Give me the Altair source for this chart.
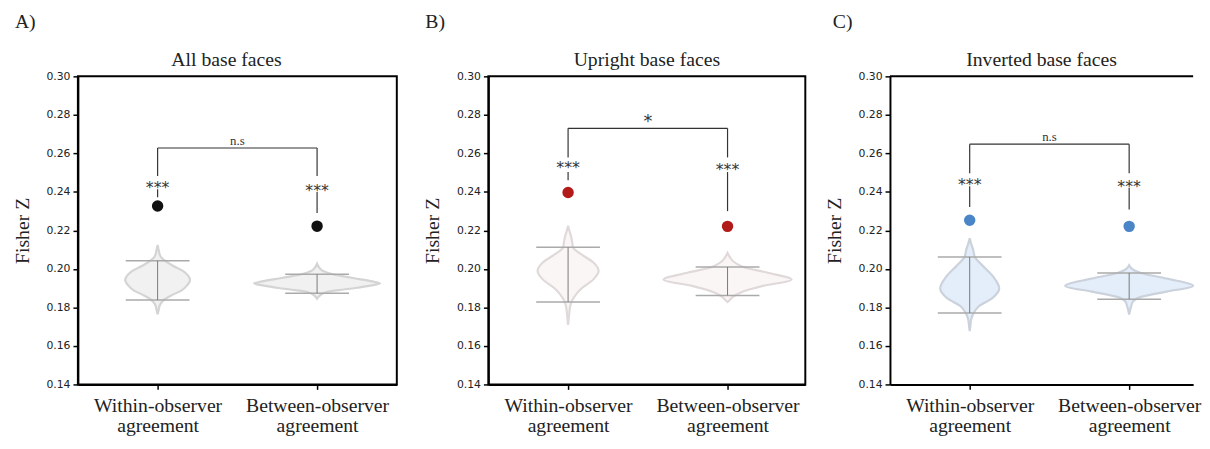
import altair as alt
import pandas as pd

SERIF = "Liberation Serif"
SANS = "DejaVu Sans"

# ---------------- data ----------------
categories = ["Within-observer agreement", "Between-observer agreement"]
cat_pos = [0.5, 1.5]
panel_titles = ["All base faces", "Upright base faces", "Inverted base faces"]
panel_letters = ["A)", "B)", "C)"]
y_ticks = [0.14, 0.16, 0.18, 0.20, 0.22, 0.24, 0.26, 0.28, 0.30]

# observed Fisher Z (dots): [within, between]
observed = [[0.2327, 0.2222], [0.2397, 0.2221], [0.2253, 0.2221]]

# violin profiles (null distributions): y values and density half-widths
vio_y = {
    (0, 0): [0.2125, 0.2095, 0.2070, 0.2055, 0.2040, 0.2015, 0.1989, 0.1965, 0.1942, 0.1915, 0.1887, 0.1865, 0.1845, 0.1830, 0.1811, 0.1790, 0.1765],
    (0, 1): [0.2027, 0.2005, 0.1989, 0.1972, 0.1960, 0.1947, 0.1935, 0.1925, 0.1913, 0.1901, 0.1890, 0.1879, 0.1862, 0.1845],
    (1, 0): [0.2224, 0.2200, 0.2176, 0.2145, 0.2112, 0.2074, 0.2032, 0.1989, 0.1947, 0.1896, 0.1853, 0.1830, 0.1803, 0.1760, 0.1709],
    (1, 1): [0.2083, 0.2060, 0.2040, 0.2025, 0.2010, 0.1981, 0.1944, 0.1913, 0.1879, 0.1853, 0.1840, 0.1828],
    (2, 0): [0.2159, 0.2130, 0.2104, 0.2062, 0.2019, 0.1959, 0.1899, 0.1848, 0.1805, 0.1771, 0.1737, 0.1700, 0.1677],
    (2, 1): [0.2019, 0.2005, 0.1993, 0.1979, 0.1950, 0.1911, 0.1882, 0.1856, 0.1831, 0.1805, 0.1763],
}
vio_d = {
    (0, 0): [0, 1.2, 2.5, 4.5, 8, 16, 26, 31, 33, 30, 24, 15, 8, 4.5, 2.2, 1.2, 0],
    (0, 1): [0, 2.5, 6, 16, 28, 43, 56, 64, 54, 39, 22, 9, 3, 0],
    (1, 0): [0, 1.2, 2.7, 4, 5, 14, 26, 31, 26, 13, 6, 3.5, 2, 1, 0],
    (1, 1): [0, 2.5, 5.7, 10, 16, 40, 65, 37, 14, 5, 2.5, 0],
    (2, 0): [0, 1.5, 3.3, 5.3, 12.7, 24, 30, 23, 9, 4, 1.5, 0.6, 0],
    (2, 1): [0, 2, 5, 12, 38, 65, 38, 13, 4, 2, 0],
}
# extrema caps of the null distributions: [within(max,min), between(max,min)]
caps = [[(0.2042, 0.1838), (0.1972, 0.1874)],
        [(0.2112, 0.1828), (0.2010, 0.1862)],
        [(0.2062, 0.1771), (0.1979, 0.1843)]]

# significance annotations
bracket_y = [0.2628, 0.2730, 0.2648]
bracket_label = ["n.s", "*", "n.s"]
bracket_label_y = [0.2665, 0.2790, 0.2686]
star_y = [[0.2440, 0.2427], [0.2542, 0.2534], [0.2458, 0.2446]]
leg_upper_end = [[0.2482, 0.2482], [0.2579, 0.2579], [0.2497, 0.2497]]
leg_lower_start = [[0.2414, 0.2400], [0.2503, 0.2503], [0.2429, 0.2421]]
leg_end = [[0.2372, 0.2290], [0.2461, 0.2300], [0.2321, 0.2309]]

# ---------------- style ----------------
dot_colors = ["#111111", "#b31b1b", "#4a85c8"]
vio_fill = ["#f1f1f1", "#fbf6f6", "#e3eefa"]
vio_stroke = ["#d4d4d4", "#e0d9d9", "#cbd2dc"]
panel_w = [324, 322, 308]
PLOT_H = 313
PX_PER_UNIT = 162.0
CAP_HW = 0.2
label_dx = [-64, -64, -58]
title_dx = [-11, 0, 0]

lab0 = categories[0].split(" ")
lab1 = categories[1].split(" ")
label_expr = ("datum.value < 1 ? ['%s','%s'] : ['%s','%s']" % (lab0[0], lab0[1], lab1[0], lab1[1]))


def panel(i):
    xmax = panel_w[i] / PX_PER_UNIT
    xs = alt.Scale(domain=[0, xmax], nice=False, zero=False)
    ys = alt.Scale(domain=[0.14, 0.30], nice=False, zero=False)

    xaxis = alt.Axis(values=cat_pos, labelExpr=label_expr, title=None, grid=False,
                     labelFont=SERIF, labelFontSize=20, labelColor="#222222",
                     labelLineHeight=21, labelPadding=6, labelLimit=400,
                     tickSize=5, tickWidth=1.5, tickColor="#000000",
                     domainColor="#000000", domainWidth=2)
    yaxis = alt.Axis(values=y_ticks, format=".2f", title="Fisher Z", grid=False,
                     labelFont=SANS, labelFontSize=11, labelColor="#222222",
                     labelPadding=3, tickSize=5, tickWidth=1.5, tickColor="#000000",
                     domainColor="#000000", domainWidth=2,
                     titleFont=SERIF, titleFontSize=20, titleFontWeight="normal",
                     titleColor="#222222", titlePadding=14)

    def X(f):
        return alt.X(f, scale=xs, axis=xaxis, title=None)

    def Y(f):
        return alt.Y(f, scale=ys, axis=yaxis, title="Fisher Z")

    # violins
    rows = []
    for j in range(2):
        for yy, dd in zip(vio_y[(i, j)], vio_d[(i, j)]):
            rows.append({"cat": categories[j], "y": yy,
                         "xl": cat_pos[j] - dd / PX_PER_UNIT,
                         "xr": cat_pos[j] + dd / PX_PER_UNIT})
    vdf = pd.DataFrame(rows)
    violin = alt.Chart(vdf).mark_area(
        orient="horizontal", interpolate="monotone",
        fill=vio_fill[i], stroke=vio_stroke[i], strokeWidth=2.2
    ).encode(
        y=Y("y:Q"),
        x=X("xl:Q"),
        x2="xr:Q",
        detail="cat:N",
    )

    # caps and centre line
    crow = []
    lrow = []
    for j in range(2):
        hi, lo = caps[i][j]
        for v in (hi, lo):
            crow.append({"y": v, "xl": cat_pos[j] - CAP_HW, "xr": cat_pos[j] + CAP_HW})
        lrow.append({"x": cat_pos[j], "y": hi, "y2": lo})
    cap_rules = alt.Chart(pd.DataFrame(crow)).mark_rule(color="#aaaaaa", strokeWidth=1.5).encode(
        y=Y("y:Q"), x=X("xl:Q"), x2="xr:Q")
    centre = alt.Chart(pd.DataFrame(lrow)).mark_rule(color="#777777", strokeWidth=1).encode(
        x=X("x:Q"), y=Y("y:Q"), y2="y2:Q")

    # observed dots
    ddf = pd.DataFrame({"x": cat_pos, "y": observed[i]})
    dots = alt.Chart(ddf).mark_circle(size=135, opacity=1, color=dot_colors[i]).encode(
        x=X("x:Q"), y=Y("y:Q"))

    # bracket
    bdf = pd.DataFrame({"x": [cat_pos[0]], "x2": [cat_pos[1]], "y": [bracket_y[i]]})
    bracket = alt.Chart(bdf).mark_rule(color="#333333", strokeWidth=1.2).encode(
        x=X("x:Q"), x2="x2:Q", y=Y("y:Q"))
    legs_rows = []
    for j in range(2):
        legs_rows.append({"x": cat_pos[j], "y": bracket_y[i], "y2": leg_upper_end[i][j]})
        legs_rows.append({"x": cat_pos[j], "y": leg_lower_start[i][j], "y2": leg_end[i][j]})
    legs = alt.Chart(pd.DataFrame(legs_rows)).mark_rule(color="#333333", strokeWidth=1.2).encode(
        x=X("x:Q"), y=Y("y:Q"), y2="y2:Q")

    sdf = pd.DataFrame({"x": cat_pos, "y": star_y[i], "t": ["***", "***"]})
    stars = alt.Chart(sdf).mark_text(font=SANS, fontSize=16, color="#333333",
                                     baseline="alphabetic", dy=9).encode(
        x=X("x:Q"), y=Y("y:Q"), text="t:N")

    big = bracket_label[i] == "*"
    ndf = pd.DataFrame({"x": [1.0], "y": [bracket_label_y[i]], "t": [bracket_label[i]]})
    nlab = alt.Chart(ndf).mark_text(
        font=SANS if big else SERIF, fontSize=18 if big else 13, color="#333333",
        baseline="alphabetic", dy=10 if big else 4).encode(
        x=X("x:Q"), y=Y("y:Q"), text="t:N")

    letter = alt.Chart(pd.DataFrame({"t": [panel_letters[i]]})).mark_text(
        font=SERIF, fontSize=20, color="#222222", align="left", baseline="alphabetic"
    ).encode(text="t:N", x=alt.value(label_dx[i]), y=alt.value(-49))

    ptitle = alt.Chart(pd.DataFrame({"t": [panel_titles[i]]})).mark_text(
        font=SERIF, fontSize=20, color="#222222", align="center", baseline="alphabetic"
    ).encode(text="t:N", x=alt.value(panel_w[i] / 2 + title_dx[i]), y=alt.value(-11))

    layers = [violin, cap_rules, centre, dots, bracket, legs, stars, nlab, letter, ptitle]
    if i == 2:
        top = alt.Chart(pd.DataFrame({"a": [0]})).mark_rule(color="#000000", strokeWidth=2).encode(
            x=alt.value(0), x2=alt.value(panel_w[i]), y=alt.value(0))
        layers.append(top)

    ch = alt.layer(*layers).properties(width=panel_w[i], height=PLOT_H)
    if i == 2:
        ch = ch.properties(view=alt.ViewBackground(stroke="transparent"))
    return ch


a, b, c = panel(0), panel(1), panel(2)
chart = alt.hconcat(alt.hconcat(a, b, spacing=24), c, spacing=17).properties(
    padding={"left": 3, "top": 0, "right": 0, "bottom": 0}
).configure_view(stroke="#000000", strokeWidth=2)

chart.save("out.html", embed_options={"renderer": "svg", "actions": False})
